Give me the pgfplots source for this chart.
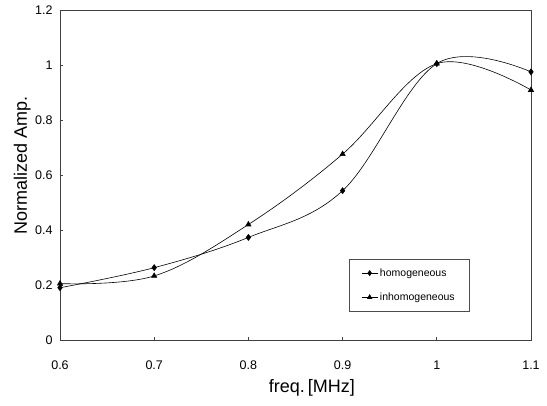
\documentclass[border=0pt]{standalone}
\usepackage{pgfplots}
\pgfplotsset{compat=1.18}
\usepackage{fontspec}
\setmainfont{Liberation Sans}
\begin{document}
\begin{tikzpicture}
\path[use as bounding box] (-60pt,-66pt) rectangle (487pt,340pt);
\begin{axis}[
  at={(0,0)}, anchor=south west,
  scale only axis, width=471pt, height=330pt,
  xmin=0.6, xmax=1.1, ymin=0, ymax=1.2,
  xtick={0.6,0.7,0.8,0.9,1,1.1},
  ytick={0,0.2,0.4,0.6,0.8,1,1.2},
  xticklabels={0.6,0.7,0.8,0.9,1,1.1},
  yticklabels={0,0.2,0.4,0.6,0.8,1,1.2},
  tick pos=left, tick align=inside, major tick length=3pt,
  axis line style={black!75, line width=0.8pt},
  tick style={black!75, line width=0.6pt},
  ticklabel style={font=\fontsize{12.5}{14}\selectfont},
  xticklabel style={yshift=-17pt},
  yticklabel style={xshift=-4pt},
  xlabel={freq.\,[MHz]},
  ylabel={Normalized Amp.},
  label style={font=\fontsize{18}{21}\selectfont},
  xlabel style={at={(axis description cs:0.535,-0.145)}, anchor=center},
  ylabel style={at={(axis description cs:-0.08,0.53)}, anchor=center},
  legend style={at={(0.614,0.088)}, anchor=south west, draw=black!70,
    font=\fontsize{10.5}{12}\selectfont, row sep=11pt, inner xsep=12pt, inner ysep=7pt},
  legend cell align=left,
  legend image code/.code={\draw[#1] (0pt,0pt) -- (16pt,0pt); \path[#1,mark repeat=1,mark size=2.5pt] plot coordinates {(8pt,0pt)};},
]
\addplot[black, line width=0.6pt, smooth, tension=0.6, mark=diamond*, mark size=3pt, mark options={solid,fill=black}]
  coordinates {(0.6,0.19) (0.7,0.263) (0.8,0.373) (0.9,0.543) (1.0,1.005) (1.1,0.975)};
\addlegendentry{homogeneous}
\addplot[black, line width=0.6pt, smooth, tension=0.6, mark=triangle*, mark size=3pt, mark options={solid,fill=black}]
  coordinates {(0.6,0.205) (0.7,0.233) (0.8,0.42) (0.9,0.676) (1.0,1.005) (1.1,0.909)};
\addlegendentry{inhomogeneous}
\end{axis}
\end{tikzpicture}
\end{document}
